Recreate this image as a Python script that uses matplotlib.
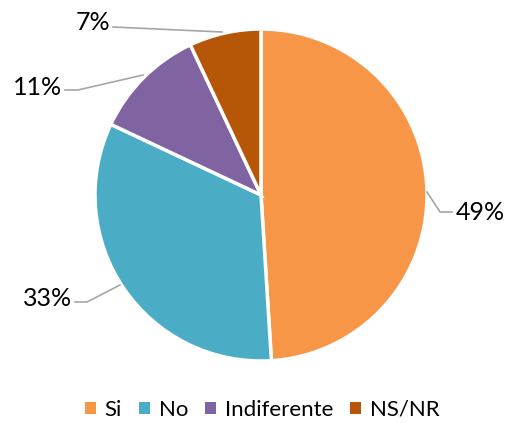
import matplotlib.pyplot as plt
from matplotlib.patches import Patch

labels = ["Si", "No", "Indiferente", "NS/NR"]
values = [49, 33, 11, 7]
colors = ["#F79646", "#4BACC6", "#8064A2", "#B65708"]

plt.rcParams["font.family"] = ["Lato", "DejaVu Sans"]

fig = plt.figure(figsize=(5.09, 4.23), dpi=100)
ax = fig.add_axes([0, 0, 1, 1])

wedges, _ = ax.pie(values, colors=colors, startangle=90, counterclock=False,
                   center=(261, 228), radius=166,
                   wedgeprops=dict(edgecolor="white", linewidth=2.5))
ax.set_xlim(0, 509)
ax.set_ylim(0, 423)
ax.set_aspect("equal")
ax.axis("off")

# leader lines and percentage labels (pixel layout, y up)
lc = "#A6A6A6"
fs = 18
ax.plot([427, 440, 452], [231, 211, 211], color=lc, lw=1.2)
ax.text(456, 211, f"{values[0]}%", fontsize=fs, va="center", ha="left")
ax.plot([120, 87, 75], [138, 121, 121], color=lc, lw=1.2)
ax.text(72, 124, f"{values[1]}%", fontsize=fs, va="center", ha="right")
ax.plot([143, 78, 65], [348, 333, 333], color=lc, lw=1.2)
ax.text(62, 336, f"{values[2]}%", fontsize=fs, va="center", ha="right")
ax.plot([222, 113], [391, 396], color=lc, lw=1.2)
ax.text(110, 401, f"{values[3]}%", fontsize=fs, va="center", ha="right")

handles = [Patch(facecolor=c, edgecolor="none") for c in colors]
leg = ax.legend(handles, labels, loc="lower center", bbox_to_anchor=(0.515, -0.04),
                ncol=4, frameon=False, fontsize=16, handlelength=0.5,
                handleheight=0.5, handletextpad=0.4, columnspacing=0.75)

fig.savefig("out.png", dpi=100)
